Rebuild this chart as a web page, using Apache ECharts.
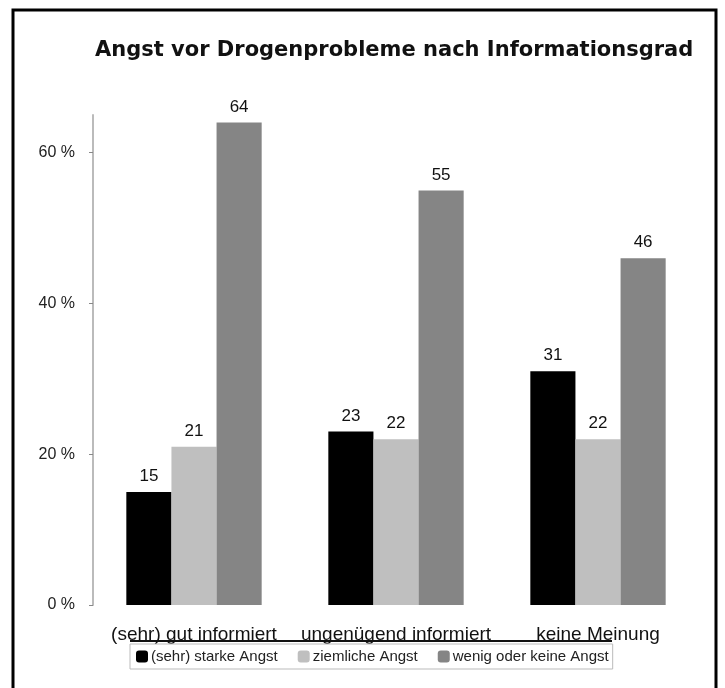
<!DOCTYPE html>
<html>
<head>
<meta charset="utf-8">
<script src="https://cdn.jsdelivr.net/npm/echarts@6/dist/echarts.min.js"></script>
<style>
  html, body { margin: 0; padding: 0; background: #fff; }
  #chart { width: 725px; height: 688px; }
</style>
</head>
<body>
<div id="chart"></div>
<script>
const categories = ['(sehr) gut informiert', 'ungenügend informiert', 'keine Meinung']
const starkeAngst = [15, 23, 31]
const ziemlicheAngst = [21, 22, 22]
const wenigAngst = [64, 55, 46]
const seriesNames = ['(sehr) starke Angst', 'ziemliche Angst', 'wenig oder keine Angst']
const seriesColors = ['#000000', '#bfbfbf', '#858585']

const chart = echarts.init(document.getElementById('chart'))

const makeSeries = (name, data, color) => ({
  name,
  type: 'bar',
  data,
  barGap: '0%',
  barCategoryGap: '33%',
  itemStyle: { color },
  label: {
    show: true,
    position: 'top',
    distance: 7,
    color: '#111',
    fontSize: 17,
    fontFamily: 'Liberation Sans'
  }
})

const option = {
  animation: false,
  backgroundColor: '#fff',
  title: {
    text: 'Angst vor Drogenprobleme nach Informationsgrad',
    left: 90,
    top: 35,
    textStyle: {
      fontFamily: 'DejaVu Sans',
      fontWeight: 'bold',
      fontSize: 21,
      color: '#111'
    }
  },
  legend: {
    data: seriesNames,
    bottom: 19,
    left: 130,
    itemWidth: 12,
    itemHeight: 12,
    itemGap: 20,
    padding: [5, 4, 5, 6],
    borderColor: '#bbb',
    borderWidth: 1,
    textStyle: { fontSize: 15, color: '#222', fontFamily: 'Liberation Sans', padding: [0, 0, 0, -2] }
  },
  grid: {
    left: 93,
    right: 26,
    top: 115,
    bottom: 83
  },
  xAxis: {
    type: 'category',
    data: categories,
    axisLine: { show: false },
    axisTick: { show: false },
    axisLabel: {
      interval: 0,
      margin: 20,
      fontSize: 19,
      color: '#111',
      fontFamily: 'Liberation Sans'
    }
  },
  yAxis: {
    type: 'value',
    min: 0,
    max: 65,
    interval: 20,
    splitLine: { show: false },
    axisLine: { show: true, lineStyle: { color: '#bbb', width: 2 } },
    axisTick: { show: true, length: 4, lineStyle: { color: '#888' } },
    axisLabel: {
      formatter: '{value} %',
      margin: 18,
      fontSize: 16,
      color: '#222',
      fontFamily: 'Liberation Sans',
      showMaxLabel: false
    }
  },
  graphic: [
    {
      type: 'rect',
      shape: { x: 13, y: 10, width: 703, height: 700 },
      style: { fill: null, stroke: '#000', lineWidth: 3 },
      silent: true
    },
    {
      type: 'line',
      shape: { x1: 130, y1: 641, x2: 612, y2: 641 },
      style: { stroke: '#111', lineWidth: 2 },
      silent: true
    }
  ],
  series: [
    makeSeries(seriesNames[0], starkeAngst, seriesColors[0]),
    makeSeries(seriesNames[1], ziemlicheAngst, seriesColors[1]),
    makeSeries(seriesNames[2], wenigAngst, seriesColors[2])
  ]
}

chart.setOption(option)
</script>
</body>
</html>
